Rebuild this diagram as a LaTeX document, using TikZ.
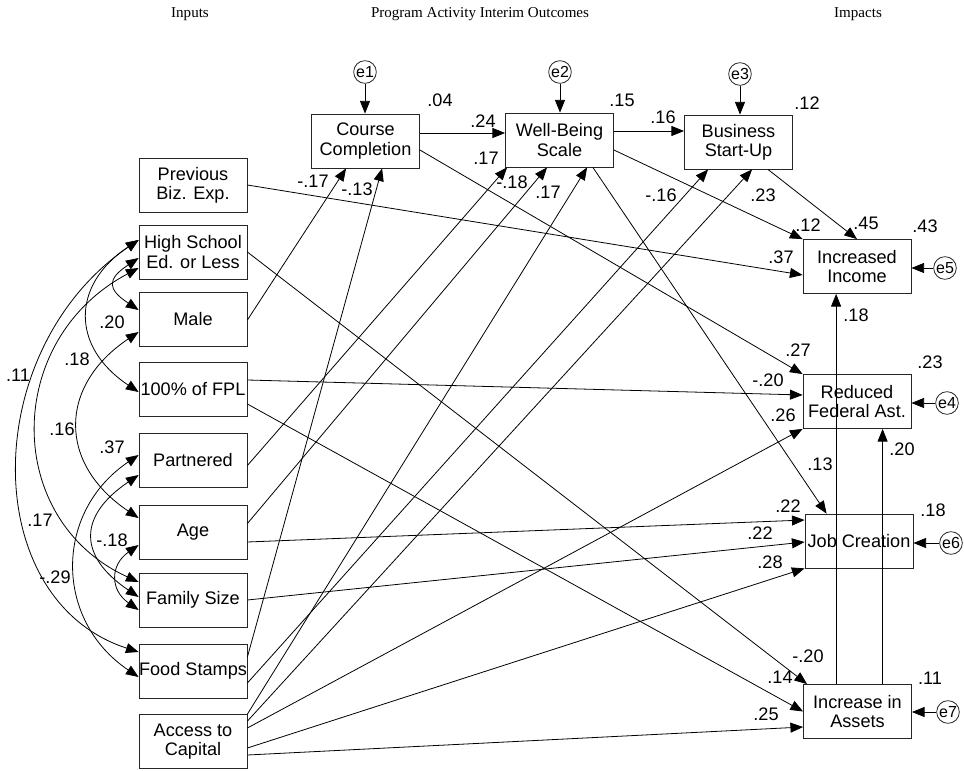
\documentclass[tikz,border=0pt]{standalone}
\usepackage{fontspec}
\setmainfont{Liberation Sans}
\newfontfamily\hdrfont{Liberation Serif}
\usetikzlibrary{arrows.meta,calc}
\begin{document}
\begin{tikzpicture}[x=0.75pt,y=-0.75pt,
  box/.style={draw=black!85, line width=0.6pt, minimum width=81pt, minimum height=40.5pt, inner sep=0pt, align=center, font=\fontsize{13.6}{14.5}\selectfont},
  err/.style={draw=black!85, circle, minimum size=17pt, inner sep=0pt, line width=0.6pt, font=\fontsize{12}{12}\selectfont},
  lbl/.style={inner sep=0pt, font=\fontsize{13.6}{14}\selectfont},
  hdr/.style={inner sep=0pt, font=\hdrfont\fontsize{11.3}{12}\selectfont},
  tip/.tip={Triangle[length=9.5pt,width=7.5pt]},
  arr/.style={-tip, line width=0.6pt},
  cov/.style={tip-tip, line width=0.6pt},
]
\useasboundingbox (0,0) rectangle (964,771);

% headers
\node[hdr] (h1) at (190,14) {Inputs};
\node[hdr] (h2) at (480,14) {Program Activity Interim Outcomes};
\node[hdr] (h3) at (858,14) {Impacts};

% input boxes
\node[box] (pbe)  at (193,185)   {Previous\\Biz. Exp.};
\node[box] (hs)   at (193,252)   {High School\\Ed. or Less};
\node[box] (male) at (193,319)   {Male};
\node[box] (fpl)  at (193,389)   {100\% of FPL};
\node[box] (part) at (193,460.5) {Partnered};
\node[box] (age)  at (193,532.5) {Age};
\node[box] (fam)  at (193,600)   {Family Size};
\node[box] (food) at (193,671)   {Food Stamps};
\node[box] (acc)  at (193,741.5) {Access to\\Capital};

% outcome boxes
\node[box] (cc)  at (365.5,141) {Course\\Completion};
\node[box] (wb)  at (559.5,140) {Well-Being\\Scale};
\node[box] (bsu) at (738.5,142) {Business\\Start-Up};
\node[box] (ii)  at (857,266.5) {Increased\\Income};
\node[box] (rfa) at (857,401.5) {Reduced\\Federal Ast.};
\node[box] (jc)  at (859,541)   {Job Creation};
\node[box] (ia)  at (857.5,711.5) {Increase in\\Assets};

% error terms
\node[err] (e1) at (365,72) {e1};
\node[err] (e2) at (560,72) {e2};
\node[err] (e3) at (740,74) {e3};
\node[err] (e5) at (945,268) {e5};
\node[err] (e4) at (947,403) {e4};
\node[err] (e6) at (951,543) {e6};
\node[err] (e7) at (948,712) {e7};

\draw[arr] (e1.south) -- (e1.south |- cc.north);
\draw[arr] (e2.south) -- (e2.south |- wb.north);
\draw[arr] (e3.south) -- (e3.south |- bsu.north);
\draw[arr] (e5.west) -- (e5.west -| ii.east);
\draw[arr] (e4.west) -- (e4.west -| rfa.east);
\draw[arr] (e6.west) -- (e6.west -| jc.east);
\draw[arr] (e7.west) -- (e7.west -| ia.east);

% paths into interim outcomes
\draw[arr] ($(male.east)+(0,1)$) -- ($(cc.south west)+(35,0)$);
\draw[arr] ($(food.east)+(0,-14)$) -- ($(cc.south west)+(71,0)$);
\draw[arr] ($(part.east)+(0,5)$) -- ($(wb.south west)+(2,0)$);
\draw[arr] ($(age.east)+(0,-9)$) -- ($(wb.south west)+(42,0)$);
\draw[arr] (acc.north east) -- ($(wb.south west)+(82,0)$);
\draw[arr] ($(food.east)+(0,12)$) -- ($(bsu.south west)+(24,0)$);
\draw[arr] ($(acc.north east)+(0,7)$) -- ($(bsu.south west)+(68,0)$);
\draw[arr] ($(cc.east)+(0,-8)$) -- ($(wb.west)+(0,-7)$);
\draw[arr] ($(wb.east)+(0,-9)$) -- ($(bsu.west)+(0,-11)$);

% paths into impacts
\draw[arr] ($(cc.east)+(0,9)$) -- (rfa.north west);
\draw[arr] ($(wb.east)+(0,10)$) -- (ii.north west);
\draw[arr] ($(wb.south east)+(-21,0)$) -- ($(jc.north west)+(22,0)$);
\draw[arr] ($(bsu.south east)+(-25,0)$) -- (ii.north);
\draw[arr] (pbe.east) -- ($(ii.west)+(0,8.5)$);
\draw[arr] (hs.east) -- ($(ia.north west)+(4,0)$);
\draw[arr] ($(fpl.east)+(0,-9)$) -- ($(rfa.west)+(0,-6.5)$);
\draw[arr] ($(fpl.east)+(0,15)$) -- (ia.west);
\draw[arr] ($(acc.east)+(0,-13.5)$) -- (rfa.south west);
\draw[arr] ($(age.east)+(0,9.5)$) -- ($(jc.west)+(0,-21)$);
\draw[arr] (fam.east) -- ($(jc.west)+(0,1)$);
\draw[arr] ($(acc.east)+(0,6.5)$) -- (jc.south west);
\draw[arr] ($(acc.east)+(0,13.5)$) -- ($(ia.west)+(0,15.5)$);
\coordinate (iaA) at ($(ia.north west)+(33,0)$);
\coordinate (iaB) at ($(ia.north west)+(79.5,0)$);
\draw[arr] (iaA) -- (iaA |- ii.south);
\draw[arr] (iaB) -- (iaB |- rfa.south);

% covariances
\draw[cov] ($(hs.west)+(0,-12)$) .. controls (71,285) and (71,347) .. ($(fpl.west)+(0,3)$);
\draw[cov] ($(hs.west)+(0,6)$) .. controls (107,279) and (107,289) .. ($(male.west)+(0,-9)$);
\draw[cov] ($(hs.west)+(0,-12)$) .. controls (-22,350) and (-22,600) .. ($(food.west)+(0,-19)$);
\draw[cov] ($(hs.west)+(0,16)$) .. controls (3,340) and (3,520) .. ($(fam.west)+(0,-18)$);
\draw[cov] ($(male.west)+(0,13)$) .. controls (58,386) and (58,464) .. ($(age.west)+(0,-14.5)$);
\draw[cov] ($(part.west)+(0,14.5)$) .. controls (78,516) and (78,556) .. ($(fam.west)+(0,-3)$);
\draw[cov] ($(age.west)+(0,12.5)$) .. controls (110,565) and (110,590) .. ($(fam.west)+(0,10)$);
\draw[cov] ($(part.west)+(0,-5.5)$) .. controls (54,512) and (54,620) .. ($(food.west)+(0,6)$);

% covariance labels
\node[lbl] (c1) at (112,322) {.20};
\node[lbl] (c2) at (77,359) {.18};
\node[lbl] (c3) at (18,375) {.11};
\node[lbl] (c4) at (62,429) {.16};
\node[lbl] (c5) at (112,447) {.37};
\node[lbl] (c6) at (40,520) {.17};
\node[lbl] (c7) at (112,540) {-.18};
\node[lbl] (c8) at (55,577) {-.29};

% path coefficients and R-squares
\node[lbl] (l1) at (440,100) {.04};
\node[lbl] (l2) at (483,121) {.24};
\node[lbl] (l3) at (486,158) {.17};
\node[lbl] (l4) at (313,181) {-.17};
\node[lbl] (l5) at (357,189) {-.13};
\node[lbl] (l6) at (512,182) {-.18};
\node[lbl] (l7) at (548,192) {.17};
\node[lbl] (l8) at (622,100) {.15};
\node[lbl] (l9) at (663,117) {.16};
\node[lbl] (l10) at (807,103) {.12};
\node[lbl] (l11) at (661,195) {-.16};
\node[lbl] (l12) at (763,195) {.23};
\node[lbl] (l13) at (808,225) {.12};
\node[lbl] (l14) at (866,223) {.45};
\node[lbl] (l15) at (925,226) {.43};
\node[lbl] (l16) at (781,257) {.37};
\node[lbl] (l17) at (856,315) {.18};
\node[lbl] (l18) at (798,350) {.27};
\node[lbl] (l19) at (930,362) {.23};
\node[lbl] (l20) at (768,380) {-.20};
\node[lbl] (l21) at (783,415) {.26};
\node[lbl] (l22) at (902,449) {.20};
\node[lbl] (l23) at (820,464) {.13};
\node[lbl] (l24) at (788,506) {.22};
\node[lbl] (l25) at (933,510) {.18};
\node[lbl] (l26) at (760,533) {.22};
\node[lbl] (l27) at (770,562) {.28};
\node[lbl] (l28) at (808,656) {-.20};
\node[lbl] (l29) at (780,677) {.14};
\node[lbl] (l30) at (930,678) {.11};
\node[lbl] (l31) at (766,714) {.25};
\end{tikzpicture}
\end{document}
